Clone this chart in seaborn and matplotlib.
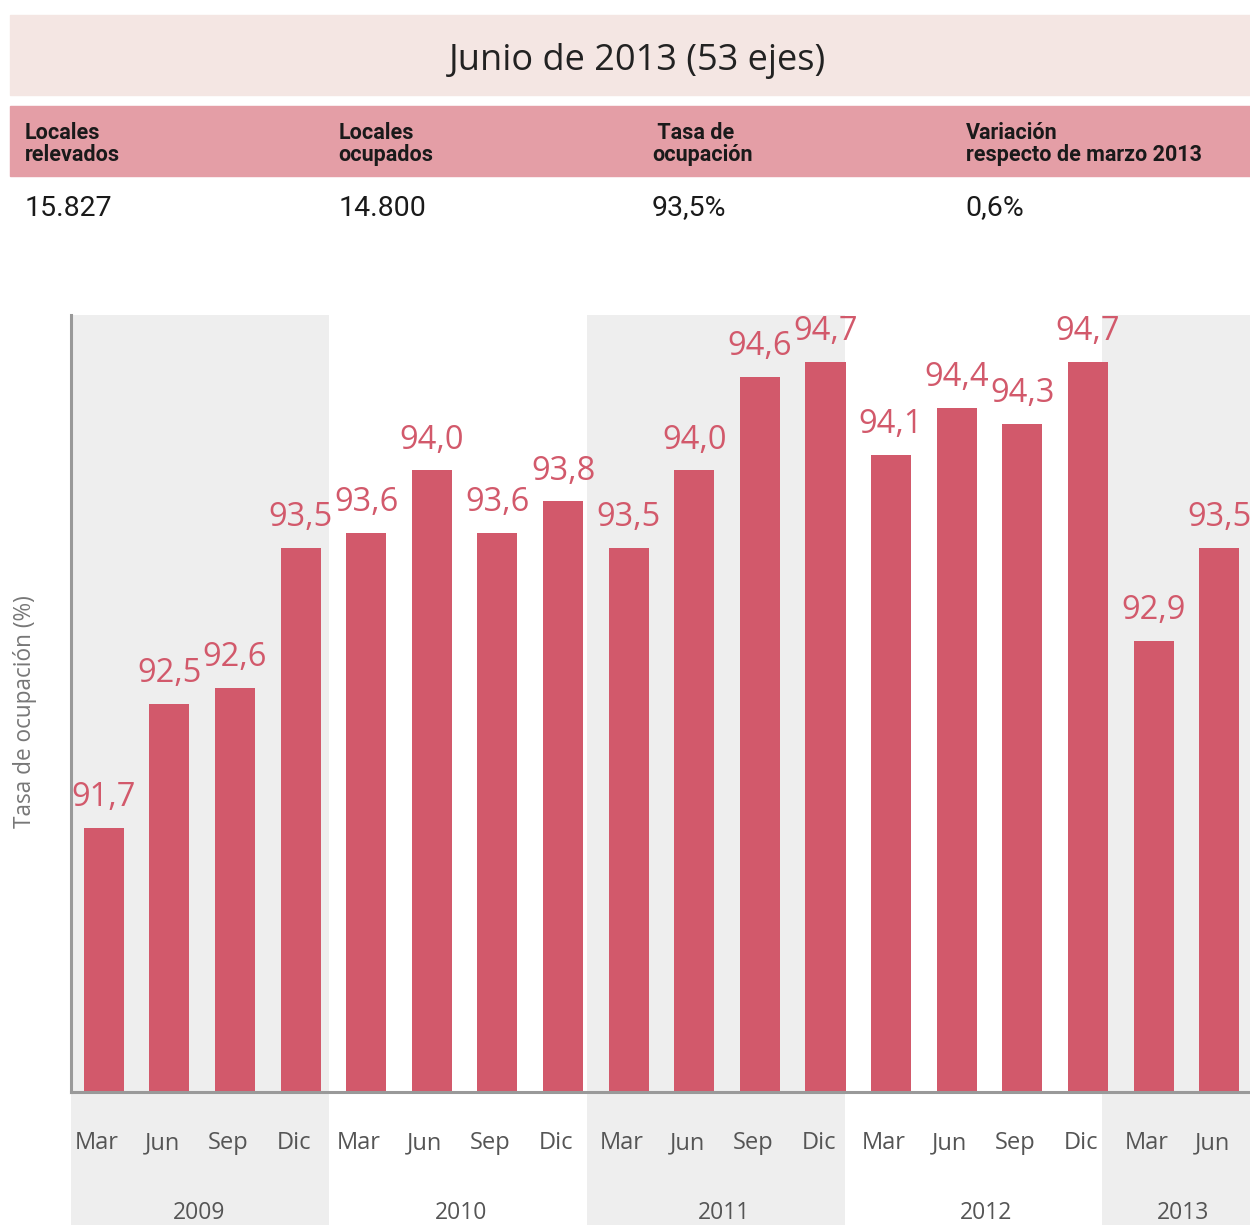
import matplotlib
matplotlib.use("Agg")
import matplotlib.pyplot as plt
import matplotlib.transforms as mtransforms
from matplotlib.patches import Rectangle
import seaborn as sns
import pandas as pd

# data
months = ["Mar", "Jun", "Sep", "Dic"] * 4 + ["Mar", "Jun"]
years = ["2009"] * 4 + ["2010"] * 4 + ["2011"] * 4 + ["2012"] * 4 + ["2013"] * 2
values = [91.7, 92.5, 92.6, 93.5, 93.6, 94.0, 93.6, 93.8, 93.5,
          94.0, 94.6, 94.7, 94.1, 94.4, 94.3, 94.7, 92.9, 93.5]

title = "Junio de 2013 (53 ejes)"
col_headers = ["Locales\nrelevados", "Locales\nocupados", " Tasa de\nocupación",
               "Variación\nrespecto de marzo 2013"]
col_values = ["15.827", "14.800", "93,5%", "0,6%"]
ylabel = "Tasa de ocupación (%)"

bar_color = "#d2596b"
band_color = "#eeeeee"

df = pd.DataFrame({"key": [m + " " + y for m, y in zip(months, years)],
                   "value": values})

W, H = 1250, 1225
fig = plt.figure(figsize=(W / 100, H / 100), dpi=100)
fig.patch.set_facecolor("white")


def fy(py):
    return 1 - py / H


# header bands
fig.patches.append(Rectangle((10 / W, fy(95)), 1 - 10 / W, (95 - 15) / H,
                             transform=fig.transFigure, color="#f4e6e3", zorder=0))
fig.patches.append(Rectangle((10 / W, fy(176)), 1 - 10 / W, (176 - 106) / H,
                             transform=fig.transFigure, color="#e49ea6", zorder=0))
fig.text(637 / W, fy(61), title, ha="center", va="center", fontsize=26,
         family="Open Sans", color="#222222")
for i, (h, v) in enumerate(zip(col_headers, col_values)):
    x = (25 + 313.5 * i) / W
    fig.text(x, fy(144), h, ha="left", va="center", fontsize=15.5,
             family="Roboto", weight="bold", color="#1a1a1a", linespacing=1.0)
    fig.text(x, fy(208), v, ha="left", va="center", fontsize=20.5,
             family="Roboto", color="#1a1a1a")

# chart
ax = fig.add_axes([71 / W, (H - 1092) / H, (W - 71) / W, (1092 - 315) / H])
ax.set_facecolor("none")

sns.barplot(data=df, x="key", y="value", color=bar_color, width=0.61,
            saturation=1, ax=ax, zorder=2)

ax.set_ylim(90, 95)
ax.set_xlim(-0.5, 17.47)

# year bands
year_list = list(dict.fromkeys(years))
band_w = 3.93
below = -(H - 1092) / (1092 - 315)
trans = mtransforms.blended_transform_factory(ax.transData, ax.transAxes)
for k, yr in enumerate(year_list):
    lo = -0.5 + band_w * k
    hi = min(lo + band_w, 17.47)
    if k % 2 == 0:
        ax.axvspan(lo, hi, ymin=below, ymax=1, color=band_color, zorder=0,
                   clip_on=False, lw=0)
    idx = [i for i, y in enumerate(years) if y == yr]
    ax.text(sum(idx) / len(idx) - 0.05, -0.156, yr, transform=trans, ha="center",
            va="center", fontsize=16.5, family="Open Sans", color="#555555")

# value labels
for i, v in enumerate(values):
    ax.annotate(f"{v:.1f}".replace(".", ","), (i, v), xytext=(0, 10),
                textcoords="offset points", ha="center", va="bottom",
                fontsize=23.5, family="Open Sans", color=bar_color)

ax.set_xticks(range(len(months)))
ax.set_xticklabels(months, fontsize=17, family="Open Sans", color="#555555")
ax.tick_params(axis="x", length=0, pad=28)
shift = mtransforms.ScaledTranslation(-7 / 100, 0, fig.dpi_scale_trans)
for lab in ax.get_xticklabels():
    lab.set_transform(lab.get_transform() + shift)
ax.set_yticks([])
ax.set_xlabel("")
ax.set_ylabel("")
for s in ["top", "right"]:
    ax.spines[s].set_visible(False)
for s in ["left", "bottom"]:
    ax.spines[s].set_color("#999999")
    ax.spines[s].set_linewidth(2.2)
    ax.spines[s].set_zorder(3)

fig.text(25 / W, fy(712), ylabel, rotation=90, ha="center", va="center",
         fontsize=16.3, family="Open Sans", color="#777777")

fig.savefig("out.png", dpi=100)
